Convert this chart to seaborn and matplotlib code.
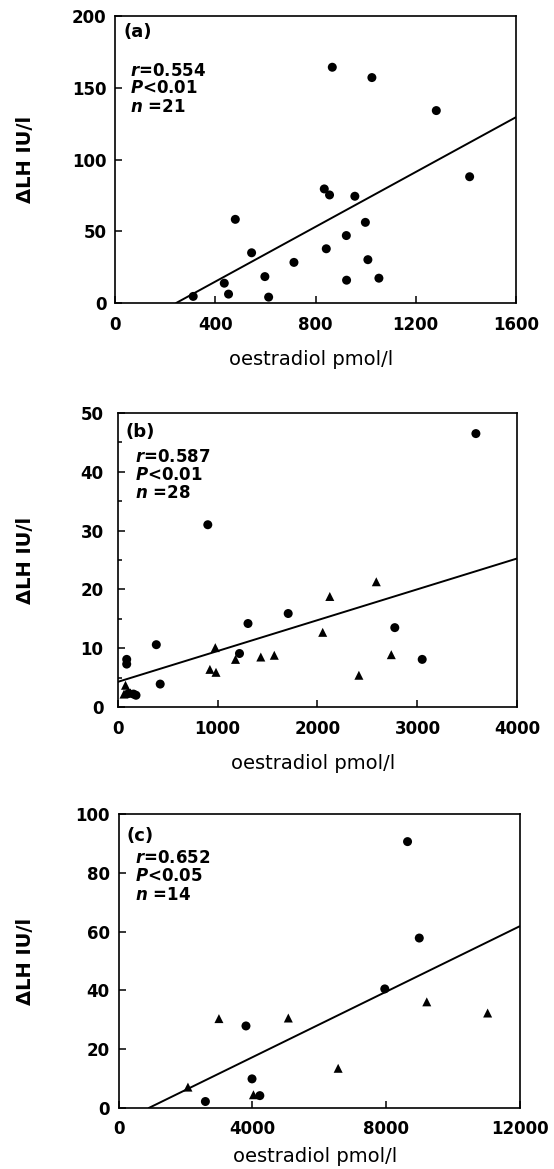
import matplotlib
matplotlib.use("Agg")
import matplotlib.pyplot as plt
from matplotlib.ticker import MultipleLocator
import seaborn as sns
import pandas as pd

# panel (a): all circles
a_x = [312, 436, 453, 480, 545, 598, 613, 714, 835, 856, 843, 867, 923, 924,
       957, 999, 1009, 1025, 1053, 1282, 1415]
a_y = [4.6, 13.8, 6.2, 58.3, 35, 18.4, 4.1, 28.3, 79.5, 75.3, 37.8, 164.3, 47,
       15.9, 74.4, 56.2, 30.2, 157.1, 17.3, 134.1, 88]

# panel (b)
b_circ_x = [3584, 903, 388, 92, 92, 427, 1305, 1220, 1707, 2773, 3047, 110, 160, 185]
b_circ_y = [46.5, 31.0, 10.6, 8.1, 7.3, 3.9, 14.2, 9.1, 15.9, 13.5, 8.1, 2.3, 2.2, 2.0]
b_tri_x = [978, 924, 985, 1180, 1433, 1568, 2052, 2123, 2588, 2414, 2738, 80, 65, 130]
b_tri_y = [10.1, 6.4, 5.9, 8.1, 8.5, 8.8, 12.7, 18.8, 21.3, 5.4, 8.9, 3.7, 2.2, 2.4]

# panel (c)
c_circ_x = [8646, 8997, 7965, 3812, 3993, 2598, 4227]
c_circ_y = [90.6, 57.8, 40.5, 27.9, 9.9, 2.2, 4.2]
c_tri_x = [2076, 3003, 5079, 6570, 9221, 11042, 4036]
c_tri_y = [7.1, 30.4, 30.6, 13.5, 36.1, 32.3, 4.5]

# regression lines (slope, intercept)
fits = [(0.0955, -23.3), (0.005255, 4.26), (0.00557, -5.04)]
panel_labels = ["(a)", "(b)", "(c)"]
stats = [("0.554", "0.01", "=21"), ("0.587", "0.01", "=28"), ("0.652", "0.05", "=14")]
xlims = [1600, 4000, 12000]
ylims = [200, 50, 100]
xticks = [[0, 400, 800, 1200, 1600], [0, 1000, 2000, 3000, 4000], [0, 4000, 8000, 12000]]
yticks = [[0, 50, 100, 150, 200], [0, 10, 20, 30, 40, 50], [0, 20, 40, 60, 80, 100]]

df_a = pd.DataFrame({"x": a_x, "y": a_y, "g": "circle"})
df_b = pd.concat([pd.DataFrame({"x": b_circ_x, "y": b_circ_y, "g": "circle"}),
                  pd.DataFrame({"x": b_tri_x, "y": b_tri_y, "g": "triangle"})])
df_c = pd.concat([pd.DataFrame({"x": c_circ_x, "y": c_circ_y, "g": "circle"}),
                  pd.DataFrame({"x": c_tri_x, "y": c_tri_y, "g": "triangle"})])
frames = [df_a, df_b, df_c]

sns.set_theme(style="ticks")
plt.rcParams["font.family"] = ["DejaVu Sans"]
plt.rcParams["mathtext.fontset"] = "custom"
plt.rcParams["mathtext.it"] = "DejaVu Sans:italic:bold"
plt.rcParams["mathtext.rm"] = "DejaVu Sans:bold"
for key in ["text.color", "axes.labelcolor", "xtick.color", "ytick.color", "axes.edgecolor"]:
    plt.rcParams[key] = "black"

fig = plt.figure(figsize=(5.54, 11.69), dpi=100)
rects = [[0.2076, 0.7408, 0.7238, 0.2455],
         [0.2121, 0.3952, 0.7220, 0.2515],
         [0.2140, 0.0522, 0.7240, 0.2515]]
text_y = [(0.976, 0.809, 0.749, 0.684), (0.966, 0.850, 0.789, 0.728), (0.955, 0.850, 0.789, 0.724)]
text_x = [(0.02, 0.037), (0.02, 0.044), (0.02, 0.041)]
ypads = [6, 10, 6.5]
xlab_y = [-0.216, -0.211, -0.184]
ylab_x = [-0.200, -0.207, -0.208]

for i, df in enumerate(frames):
    ax = fig.add_axes(rects[i])
    sns.scatterplot(data=df, x="x", y="y", style="g",
                    markers={"circle": "o", "triangle": "^"},
                    color="black", s=42, linewidth=0, legend=False, ax=ax, zorder=3)
    slope, icpt = fits[i]
    ax.axline((0, icpt), slope=slope, color="black", lw=1.4, zorder=2)
    ax.set_xlim(0, xlims[i])
    ax.set_ylim(0, ylims[i])
    ax.set_xticks(xticks[i])
    ax.set_yticks(yticks[i])
    if i == 1:
        ax.yaxis.set_minor_locator(MultipleLocator(5))
    ax.tick_params(direction="in", length=5, width=1.1, colors="black", labelsize=12)
    ax.tick_params(axis="x", pad=9)
    ax.tick_params(axis="y", pad=ypads[i])
    ax.tick_params(which="minor", direction="in", length=3, width=1.1)
    for lab in ax.get_xticklabels() + ax.get_yticklabels():
        lab.set_fontweight("bold")
    for sp in ax.spines.values():
        sp.set_visible(True)
        sp.set_linewidth(1.2)
        sp.set_color("black")
    ax.set_xlabel("oestradiol pmol/l", fontsize=14, va="baseline")
    ax.xaxis.set_label_coords(0.49, xlab_y[i])
    ax.set_ylabel("ΔLH IU/l", fontsize=14, fontweight="bold")
    ax.yaxis.set_label_coords(ylab_x[i], 0.5)
    ax.text(text_x[i][0], text_y[i][0], panel_labels[i], transform=ax.transAxes,
            fontsize=13, fontweight="bold", va="top", ha="left")
    r, p, n = stats[i]
    ax.text(text_x[i][1], text_y[i][1], "$r$=" + r, transform=ax.transAxes,
            fontsize=12, fontweight="bold", va="center", ha="left")
    ax.text(text_x[i][1], text_y[i][2], "$P$<" + p, transform=ax.transAxes,
            fontsize=12, fontweight="bold", va="center", ha="left")
    ax.text(text_x[i][1], text_y[i][3], "$n$ " + n, transform=ax.transAxes,
            fontsize=12, fontweight="bold", va="center", ha="left")

fig.savefig("out.png", dpi=100)
